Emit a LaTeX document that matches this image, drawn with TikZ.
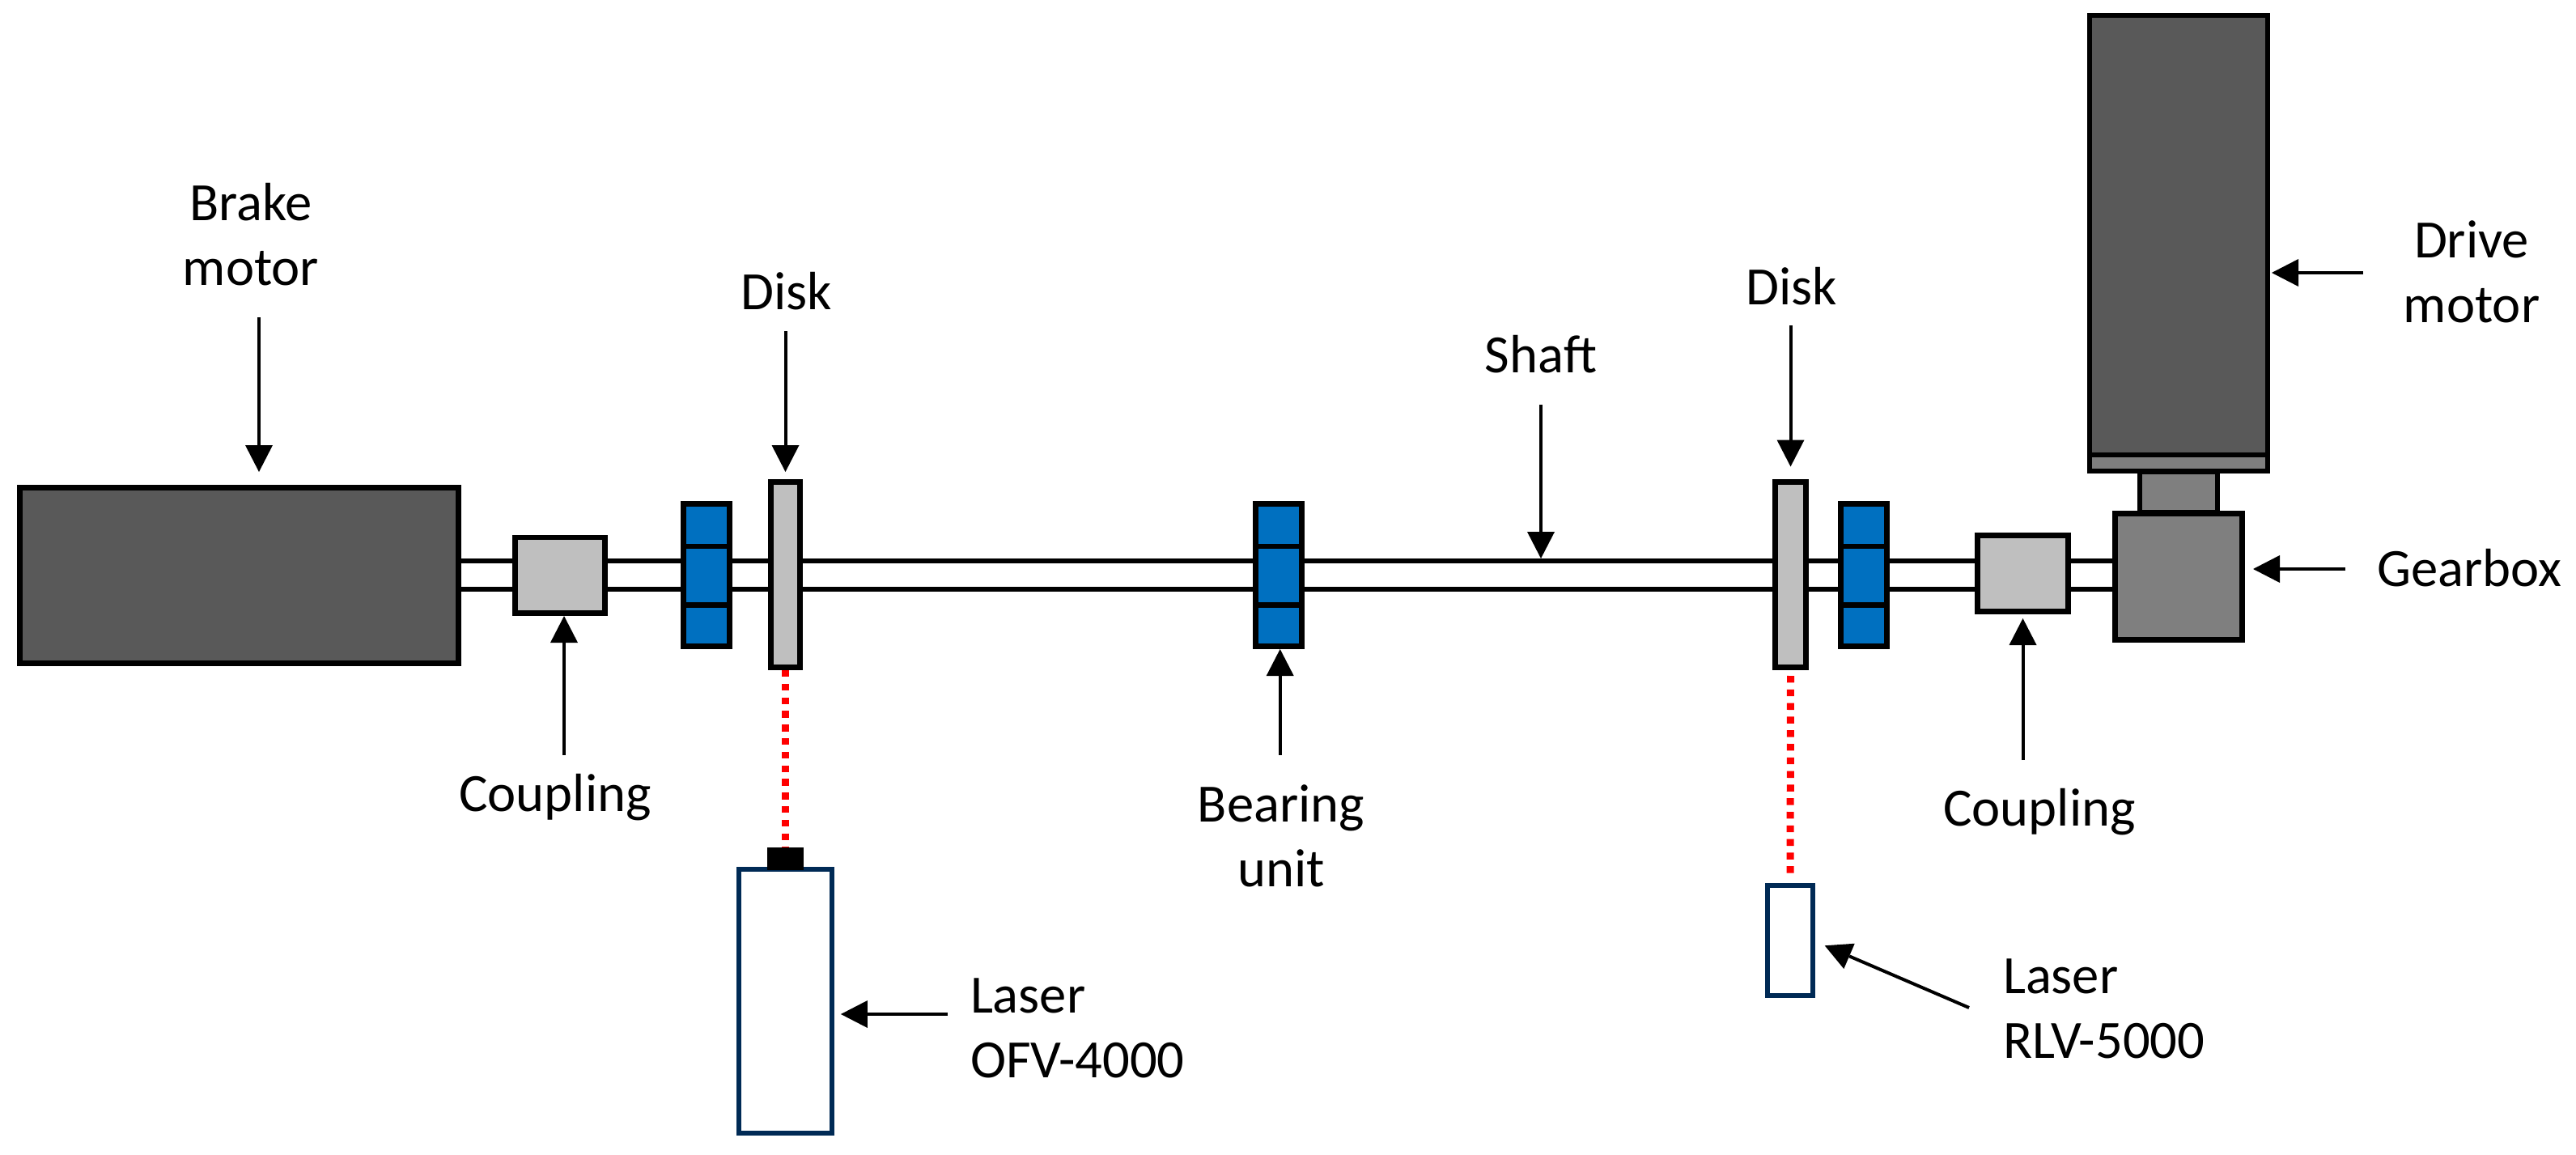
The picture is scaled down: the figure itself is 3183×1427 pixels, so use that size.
\documentclass[tikz,border=0pt]{standalone}
\usepackage{fontspec}
\setmainfont{Carlito}
\usetikzlibrary{arrows.meta,backgrounds}
\definecolor{darkmotor}{HTML}{595959}
\definecolor{midgrey}{HTML}{7F7F7F}
\definecolor{lightgrey}{HTML}{BFBFBF}
\definecolor{bearingblue}{HTML}{0070C0}
\definecolor{lasernavy}{HTML}{002A55}
\tikzset{
  sz/.style 2 args={minimum width=#1*0.5pt,minimum height=#2*0.5pt},
  part/.style={draw=black,line width=3.4pt,inner sep=0pt,outer sep=0pt,rectangle},
  motorbox/.style={part,fill=darkmotor,line width=3.2pt},
  gearbox/.style={part,fill=midgrey,line width=3.2pt},
  greybox/.style={part,fill=lightgrey},
  bearingbox/.style={part,fill=bearingblue,sz={57}{176}},
  laserbox/.style={part,draw=lasernavy,fill=white,line width=3.1pt},
  capbox/.style={rectangle,fill=black,inner sep=0pt,outer sep=0pt},
  shaftline/.style={draw=black,line width=3pt},
  divider/.style={draw=black,line width=3.3pt},
  beam/.style={draw=red,line width=4.5pt,dash pattern=on 4.2pt off 4.2pt},
  arr/.style={draw=black,line width=2pt,-{Triangle[length=16.5pt,width=17pt,line width=0pt]}},
  lbl/.style={font=\fontsize{33.3}{40}\selectfont,inner sep=0pt,outer sep=0pt,text=black},
}
\begin{document}
\begin{tikzpicture}[x=0.5pt,y=-0.5pt]
\useasboundingbox (0,0) rectangle (3183,1427);
% helper coordinates
\coordinate (sT) at (0,693);
\coordinate (sB) at (0,727.5);
\coordinate (dA) at (0,675);
\coordinate (dB) at (0,747.5);
\coordinate (brakeTail) at (320,392);
\coordinate (diskATail) at (970.5,409);
\coordinate (diskBTail) at (2212.5,402);
\coordinate (shaftTail) at (1904,500);
\coordinate (coupATail) at (697,933);
\coordinate (bearTail) at (1581.7,933);
\coordinate (coupBTail) at (2499.5,939);
\coordinate (laserATail) at (1171,1253);
\coordinate (laserBTail) at (2433,1245);
\coordinate (driveTail) at (2920,337);
\coordinate (gearTail) at (2898,703);
% parts
\node[part,fill=midgrey,line width=3pt,sz={96}{50}] (neck) at (2692,608) {};
\node[motorbox,sz={542}{217}] (brake) at (295.5,711) {};
\node[greybox,sz={111}{93.5}] (coupA) at (692,710.8) {};
\node[bearingbox] (bearA) at (873,710.5) {};
\node[greybox,sz={36}{229}] (diskA) at (970.5,710) {};
\node[bearingbox] (bearM) at (1580,710.5) {};
\node[greybox,sz={38}{229}] (diskB) at (2212.5,710) {};
\node[bearingbox] (bearB) at (2303,710.5) {};
\node[greybox,sz={112}{94}] (coupB) at (2499.5,708.5) {};
\node[gearbox,sz={157}{156}] (gear) at (2692,712.5) {};
\node[motorbox,sz={220}{543}] (motor) at (2692,290.5) {};
\node[gearbox,sz={220}{20}] (motorbase) at (2692,572) {};
\node[laserbox,sz={114.5}{326.5}] (laserA) at (970.5,1237) {};
\node[capbox,sz={45}{28.5}] (cap) at (970.5,1061) {};
\node[laserbox,sz={56}{136}] (laserB) at (2212,1162) {};
% page and shaft behind everything
\begin{pgfonlayer}{background}
\fill[white] (0,0) rectangle (3183,1427);
\draw[shaftline] (brake.east |- sT) -- (gear.west |- sT);
\draw[shaftline] (brake.east |- sB) -- (gear.west |- sB);
\end{pgfonlayer}
% bearing dividers
\foreach \b in {bearA,bearM,bearB}{
  \draw[divider] (\b.west |- dA) -- (\b.east |- dA);
  \draw[divider] (\b.west |- dB) -- (\b.east |- dB);
}
% laser beams
\draw[beam,shorten <=1.75pt] (diskA.south) -- (cap.north);
\draw[beam,shorten <=5.25pt,shorten >=7.5pt] (diskB.south) -- (laserB.north);
% labels
\node[lbl,align=center,anchor=base] (tBrake) at (310,352.7) {Brake\\motor};
\node[lbl,anchor=base] (tDiskA) at (972,383) {Disk};
\node[lbl,anchor=base] (tDiskB) at (2214,377) {Disk};
\node[lbl,anchor=base] (tShaft) at (1904,460.7) {Shaft};
\node[lbl,anchor=base] (tCoupA) at (686,1002.5) {Coupling};
\node[lbl,anchor=base] (tCoupB) at (2520,1020) {Coupling};
\node[lbl,align=center,anchor=base] (tBear) at (1583,1095) {Bearing\\unit};
\node[lbl,align=left,anchor=base west] (tLaserA) at (1199,1331.7) {Laser\\OFV-4000};
\node[lbl,align=left,anchor=base west] (tLaserB) at (2475,1307.7) {Laser\\RLV-5000};
\node[lbl,align=center,anchor=base] (tDrive) at (3054,399) {Drive\\motor};
\node[lbl,anchor=base] (tGear) at (3051,724.5) {Gearbox};
% arrows
\draw[arr,shorten >=9.75pt] (brakeTail) -- (brake.north -| brakeTail);
\draw[arr,shorten >=6.25pt] (diskATail) -- (diskA.north -| diskATail);
\draw[arr,shorten >=9.5pt] (diskBTail) -- (diskB.north -| diskBTail);
\draw[arr,shorten >=1.5pt] (shaftTail) -- (sT -| shaftTail);
\draw[arr,shorten >=1.75pt] (coupATail) -- (coupA.south -| coupATail);
\draw[arr,shorten >=1.75pt] (bearTail) -- (bearM.south -| bearTail);
\draw[arr,shorten >=4.25pt] (coupBTail) -- (coupB.south -| coupBTail);
\draw[arr,shorten >=5.6pt] (laserATail) -- (laserA.east |- laserATail);
\draw[arr,shorten >=8pt] (laserBTail) -- (laserB.east);
\draw[arr,shorten >=2.5pt] (driveTail) -- (motor.east |- driveTail);
\draw[arr,shorten >=6.75pt] (gearTail) -- (gear.east |- gearTail);
\end{tikzpicture}
\end{document}
